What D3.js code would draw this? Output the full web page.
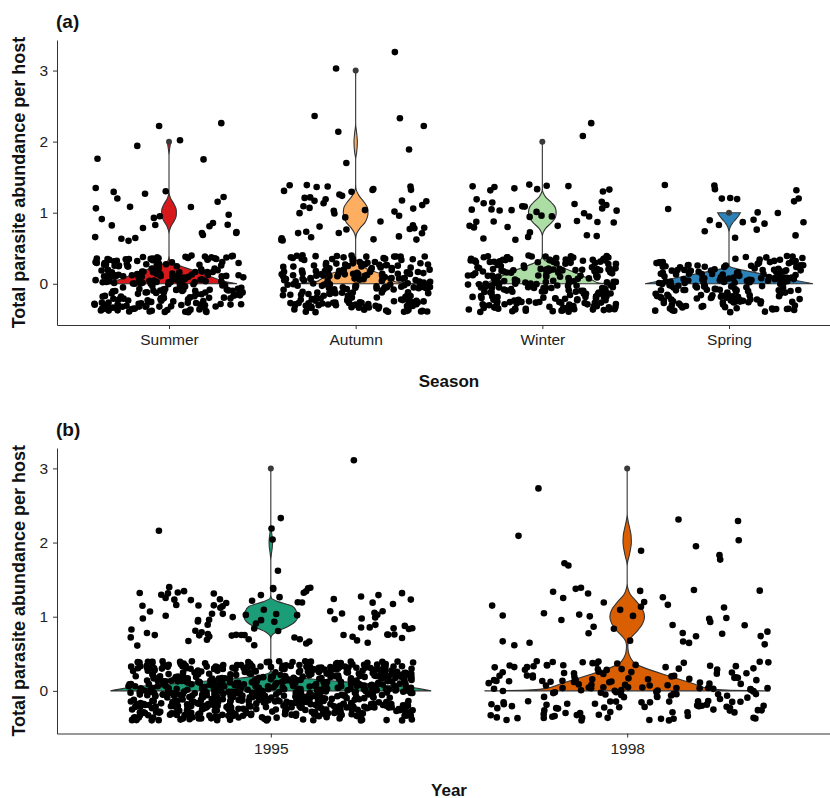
<!DOCTYPE html>
<html>
<head>
<meta charset="utf-8">
<script src="https://cdn.jsdelivr.net/npm/d3@7"></script>
<style>
  body { margin: 0; background: #fff; }
  svg { display: block; font-family: "Liberation Sans", Arial, sans-serif; }
  .axis path, .axis line { stroke: #333; }
  .axis text { fill: #222; font-size: 15.5px; }
</style>
</head>
<body>
<script>
// ---- data ----
const seasons = ["Summer", "Autumn", "Winter", "Spring"];
const years = ["1995", "1998"];
const yTicks = [0, 1, 2, 3];

// hosts at abundance 0 and 1 (dense, jittered clouds)
const seasonZero = [250, 225, 235, 190];
const seasonOne = [28, 48, 45, 22];
const yearZero = [720, 175];
const yearOne = [100, 42];

// sparse points (abundance >= 2): [jitter as fraction of step, jittered value]
const summerHigh = [[-0.383, 1.76], [-0.17, 1.94], [-0.053, 2.22], [0.059, 2.02], [0.185, 1.75], [0.28, 2.26]];
const autumnHigh = [[-0.105, 3.03], [0.21, 3.26], [-0.22, 2.36], [-0.093, 2.14], [0.237, 2.33], [0.365, 2.22], [0.286, 1.89], [-0.05, 1.70]];
const winterHigh = [[0.262, 2.26], [0.217, 2.08]];
const springHigh = [];
const y1995High = [[-0.314, 2.16], [0.002, 2.19], [0.005, 2.04], [0.028, 2.33], [0.02, 1.62], [0.233, 3.11]];
const y1998High = [[-0.249, 2.73], [-0.305, 2.09], [0.144, 2.31], [0.311, 2.29], [0.313, 2.03], [0.259, 1.83],
  [0.261, 1.77], [0.039, 1.89], [0.193, 1.95], [-0.176, 1.72], [-0.165, 1.69]];

// violin outlines: [abundance, relative density] (1 = widest violin)
const summerProfile = [[0, 0.81], [0.02, 0.71], [0.1, 0.5], [0.2, 0.26], [0.27, 0.09], [0.33, 0.01], [0.4, 0], [0.7, 0],
  [0.8, 0.02], [0.88, 0.06], [0.95, 0.085], [1, 0.088], [1.05, 0.085], [1.12, 0.06], [1.2, 0.02], [1.3, 0], [1.8, 0],
  [1.9, 0.008], [1.96, 0.015], [2, 0.018]];
const autumnProfile = [[0, 0.83], [0.01, 0.6], [0.03, 0.47], [0.06, 0.42], [0.14, 0.3], [0.21, 0.13], [0.27, 0.05],
  [0.34, 0.005], [0.4, 0], [0.62, 0], [0.7, 0.01], [0.78, 0.05], [0.86, 0.11], [0.94, 0.14], [1, 0.147], [1.07, 0.14],
  [1.15, 0.1], [1.24, 0.04], [1.33, 0.005], [1.4, 0], [1.75, 0], [1.85, 0.012], [2, 0.02], [2.12, 0.012], [2.25, 0],
  [2.9, 0], [3, 0.004]];
const winterProfile = [[0, 0.8], [0.015, 0.66], [0.05, 0.6], [0.1, 0.5], [0.2, 0.3], [0.28, 0.12], [0.33, 0.03],
  [0.38, 0.003], [0.45, 0], [0.66, 0], [0.72, 0.01], [0.78, 0.04], [0.86, 0.11], [0.93, 0.155], [1, 0.165],
  [1.07, 0.155], [1.14, 0.11], [1.22, 0.04], [1.28, 0.01], [1.34, 0], [1.95, 0], [2, 0.003]];
const springProfile = [[0, 1], [0.07, 0.69], [0.16, 0.3], [0.22, 0.06], [0.25, 0.005], [0.3, 0], [0.72, 0],
  [0.75, 0.003], [0.8, 0.015], [0.85, 0.04], [0.9, 0.075], [0.95, 0.11], [1, 0.135]];
const y1995Profile = [[0, 1], [0.02, 0.95], [0.045, 0.88], [0.08, 0.7], [0.125, 0.44], [0.17, 0.2], [0.21, 0.06],
  [0.25, 0.005], [0.3, 0], [0.7, 0], [0.74, 0.004], [0.79, 0.03], [0.87, 0.11], [0.94, 0.155], [1, 0.167],
  [1.07, 0.16], [1.14, 0.135], [1.2, 0.05], [1.25, 0.004], [1.3, 0], [1.75, 0], [1.85, 0.004], [1.93, 0.009],
  [2, 0.011], [2.07, 0.009], [2.15, 0.004], [2.25, 0], [2.95, 0], [3, 0.002]];
const y1998Profile = [[0, 0.89], [0.01, 0.62], [0.03, 0.52], [0.1, 0.41], [0.2, 0.26], [0.3, 0.12], [0.37, 0.05],
  [0.45, 0.02], [0.52, 0.008], [0.6, 0.004], [0.66, 0.008], [0.72, 0.025], [0.8, 0.06], [0.9, 0.095], [1, 0.108],
  [1.1, 0.095], [1.2, 0.06], [1.3, 0.02], [1.38, 0.005], [1.45, 0], [1.68, 0], [1.74, 0.003], [1.8, 0.01],
  [1.9, 0.02], [2, 0.026], [2.1, 0.024], [2.2, 0.015], [2.3, 0.005], [2.38, 0], [2.95, 0], [3, 0.002]];

const seasonColours = ["#d7191c", "#fdae61", "#abdda4", "#2b83ba"];
const yearColours = ["#1b9e77", "#d95f02"];

// ---- drawing ----
const WIDTH = 830, HEIGHT = 798;
const svg = d3.select("body").append("svg").attr("width", WIDTH).attr("height", HEIGHT);

// seeded jitter, so the picture is stable between runs
function mulberry32(a) {
  return function() {
    a |= 0; a = a + 0x6D2B79F5 | 0;
    let t = Math.imul(a ^ a >>> 15, 1 | a);
    t = t + Math.imul(t ^ t >>> 7, 61 | t) ^ t;
    return ((t ^ t >>> 14) >>> 0) / 4294967296;
  };
}

function drawPanel(p) {
  const x = d3.scalePoint().domain(p.cats).range([57, 841]).padding(0.6);
  const y = d3.scaleLinear().domain(p.yDomain).range([p.bottom, p.top]);
  const step = x.step();
  const w = d3.scaleLinear().domain([0, 1]).range([0, 0.45 * step]);
  const g = svg.append("g");

  // violins
  p.cats.forEach(function(c, i) {
    const cx = x(c);
    const area = d3.area()
      .curve(d3.curveMonotoneY)
      .y(d => y(d[0]))
      .x0(d => cx - w(d[1]))
      .x1(d => cx + w(d[1]));
    g.append("path")
      .attr("d", area(p.profiles[i]))
      .attr("fill", p.colours[i])
      .attr("stroke", "#333")
      .attr("stroke-width", 1.1);
  });

  // jittered points
  const rand = mulberry32(p.seed);
  const pts = [];
  p.cats.forEach(function(c, i) {
    [p.zero[i], p.one[i]].forEach(function(n, level) {
      for (let k = 0; k < n; k++) {
        const dx = (rand() * 2 - 1) * 0.4;
        const dy = (rand() * 2 - 1) * 0.4;
        pts.push([x(c) + dx * step, y(level + dy)]);
      }
    });
    p.high[i].forEach(d => pts.push([x(c) + d[0] * step, y(d[1])]));
  });
  g.selectAll(".pt").data(pts).enter().append("circle")
    .attr("class", "pt")
    .attr("cx", d => d[0]).attr("cy", d => d[1])
    .attr("r", 3.3).attr("fill", "#000");

  // dot at the top of each violin
  p.cats.forEach(function(c, i) {
    const prof = p.profiles[i];
    g.append("circle")
      .attr("cx", x(c)).attr("cy", y(prof[prof.length - 1][0]))
      .attr("r", 3).attr("fill", "#3a3a3a");
  });

  // axes
  g.append("g").attr("class", "axis")
    .attr("transform", "translate(0," + p.bottom + ")")
    .call(d3.axisBottom(x).tickSizeInner(4).tickSizeOuter(0).tickPadding(5));
  g.append("g").attr("class", "axis")
    .attr("transform", "translate(57,0)")
    .call(d3.axisLeft(y).tickValues(yTicks).tickFormat(d3.format("d"))
      .tickSizeInner(4).tickSizeOuter(0).tickPadding(5));

  // titles
  g.append("text").attr("x", 56).attr("y", p.top - 12)
    .attr("font-size", 19).attr("font-weight", "bold").attr("fill", "#111").text(p.label);
  g.append("text").attr("x", 449).attr("y", p.bottom + 62)
    .attr("text-anchor", "middle").attr("font-size", 17).attr("font-weight", "bold").attr("fill", "#111")
    .text(p.xTitle);
  g.append("text")
    .attr("transform", "translate(25," + ((p.top + p.bottom) / 2) + ") rotate(-90)")
    .attr("text-anchor", "middle").attr("font-size", 18).attr("font-weight", "bold").attr("fill", "#111")
    .text("Total parasite abundance per host");
}

drawPanel({
  cats: seasons, yDomain: [-0.58, 3.43], top: 40, bottom: 325,
  profiles: [summerProfile, autumnProfile, winterProfile, springProfile],
  colours: seasonColours, zero: seasonZero, one: seasonOne,
  high: [summerHigh, autumnHigh, winterHigh, springHigh],
  label: "(a)", xTitle: "Season", seed: 11
});

drawPanel({
  cats: years, yDomain: [-0.575, 3.275], top: 448, bottom: 733.5,
  profiles: [y1995Profile, y1998Profile],
  colours: yearColours, zero: yearZero, one: yearOne,
  high: [y1995High, y1998High],
  label: "(b)", xTitle: "Year", seed: 29
});
</script>
</body>
</html>
